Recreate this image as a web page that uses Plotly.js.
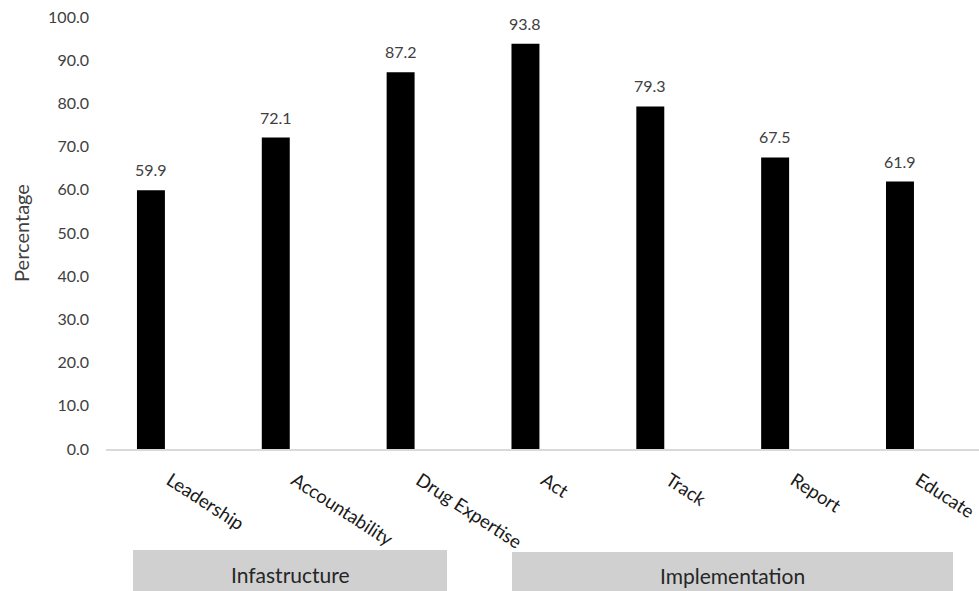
<!DOCTYPE html>
<html>
<head>
<meta charset="utf-8">
<script src="https://cdn.plot.ly/plotly-3.0.1.min.js"></script>
<style>html,body{margin:0;padding:0;background:#fff;}#chart{width:979px;height:591px;}</style>
</head>
<body>
<div id="chart"></div>
<script>
const categories = ["Leadership", "Accountability", "Drug Expertise", "Act", "Track", "Report", "Educate"];
const values = [59.9, 72.1, 87.2, 93.8, 79.3, 67.5, 61.9];
const valueLabels = ["59.9", "72.1", "87.2", "93.8", "79.3", "67.5", "61.9"];
const groupNames = ["Infastructure", "Implementation"];
const yTickValues = [0, 10, 20, 30, 40, 50, 60, 70, 80, 90, 100];

const W = 979, H = 591, L = 106, R = 0, T = 17, B = 142;
const pw = W - L - R, ph = H - T - B;
const px = p => (p - L) / pw;
const py = p => (H - B - p) / ph;

const FONT = "Lato, 'Open Sans', sans-serif";
const TXT = "#404040";

const groupBoxes = [
  {x0: 133, x1: 447, y0: 550, y1: 591},
  {x0: 512, x1: 953, y0: 552, y1: 591}
];

const shapes = groupBoxes.map(b => ({
  type: "rect", xref: "paper", yref: "paper",
  x0: px(b.x0), x1: px(b.x1), y0: py(b.y1), y1: py(b.y0),
  fillcolor: "#d0d0d0", line: {width: 0}, layer: "below"
}));

const annotations = values.map((v, i) => ({
  x: categories[i], y: v, xref: "x", yref: "y",
  text: valueLabels[i], showarrow: false,
  yanchor: "bottom", yshift: 9,
  font: {family: FONT, size: 16, color: TXT}
}));
groupNames.forEach((g, i) => {
  const b = groupBoxes[i];
  annotations.push({
    xref: "paper", yref: "paper",
    x: px((b.x0 + b.x1) / 2), y: py((b.y0 + b.y1) / 2 + 4),
    text: g, showarrow: false, xanchor: "center", yanchor: "middle",
    font: {family: FONT, size: 21, color: "#262626"}
  });
});

const trace = {
  type: "bar",
  x: categories,
  y: values,
  marker: {color: "#000000", line: {width: 0}},
  width: 0.224,
  hoverinfo: "x+y"
};

const layout = {
  width: W, height: H,
  margin: {l: L, r: R, t: T, b: B, pad: 0},
  paper_bgcolor: "#ffffff", plot_bgcolor: "#ffffff",
  showlegend: false,
  font: {family: FONT, color: TXT},
  xaxis: {
    type: "category",
    range: [-0.36, 6.633],
    showgrid: false, zeroline: false,
    showline: true, linecolor: "#d9d9d9", linewidth: 1.5,
    ticks: "", tickangle: 33,
    ticklabelstandoff: 12, ticklabelshift: 19,
    tickfont: {family: FONT, size: 18.5, color: "#1a1a1a"},
    fixedrange: true
  },
  yaxis: {
    range: [0, 100],
    tickvals: yTickValues,
    tickformat: ".1f",
    showgrid: false, zeroline: false, showline: false,
    ticks: "", ticklabelstandoff: 16,
    tickfont: {family: FONT, size: 16, color: TXT},
    title: {text: "Percentage", font: {family: FONT, size: 20, color: TXT}, standoff: 13},
    fixedrange: true
  },
  shapes: shapes,
  annotations: annotations
};

Plotly.newPlot("chart", [trace], layout, {displayModeBar: false, staticPlot: true});
</script>
</body>
</html>
